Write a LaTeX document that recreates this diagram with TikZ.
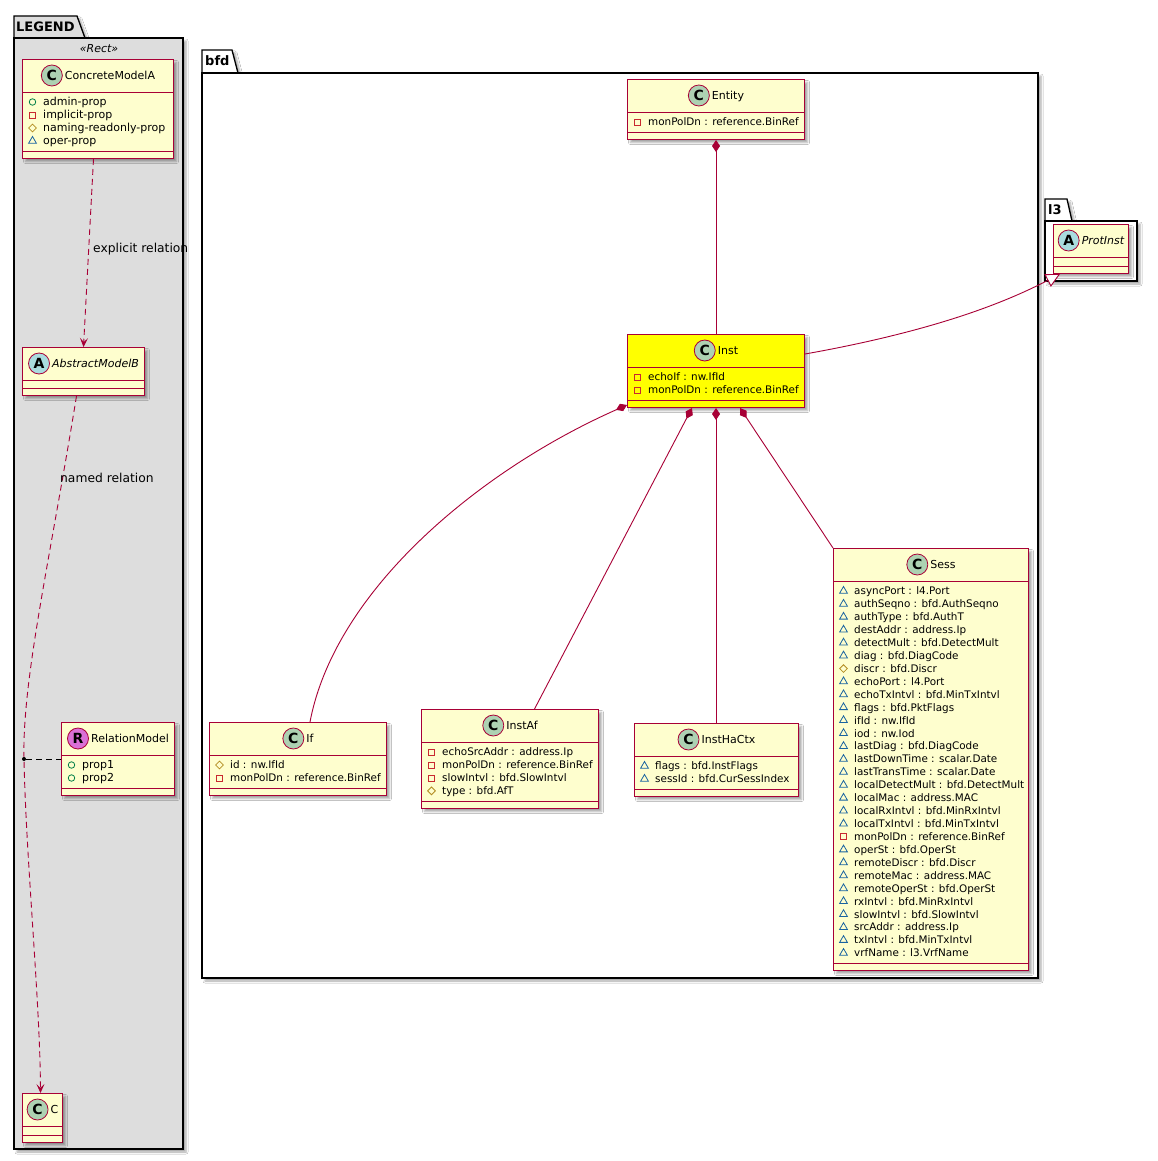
\documentclass[tikz,border=0pt]{standalone}
\usepackage{fontspec}
\setmainfont{DejaVu Sans}
\usetikzlibrary{positioning,arrows.meta,shadows.blur,shapes.geometric}

\definecolor{umlred}{HTML}{A80036}
\definecolor{classfill}{HTML}{FEFECE}
\definecolor{instfill}{HTML}{FFFF00}
\definecolor{ciconfill}{HTML}{ADD1B2}
\definecolor{aiconfill}{HTML}{A9DCDF}
\definecolor{riconfill}{HTML}{DA70D6}
\definecolor{legendfill}{HTML}{DDDDDD}
\definecolor{pubcol}{HTML}{038048}
\definecolor{privcol}{HTML}{C82930}
\definecolor{protcol}{HTML}{B38D22}
\definecolor{packcol}{HTML}{1963A0}

\newcommand\attrfont{\fontsize{10.4}{12}\selectfont}
\newcommand\legfont{\fontsize{11}{13}\selectfont}
\newcommand\namefont{\fontsize{11}{13}\selectfont}

\tikzset{
  umlshadow/.style={blur shadow={shadow xshift=3pt, shadow yshift=-3pt, shadow blur radius=2pt, shadow opacity=35}},
  classbox/.style={draw=umlred, line width=1pt, fill=classfill, umlshadow, anchor=north west, inner sep=0pt},
  classline/.style={draw=umlred, line width=0.9pt},
  cname/.style={inner sep=0pt, text height=8pt, text depth=0pt, font=\namefont},
  icon/.style={circle, draw=umlred, line width=0.8pt, fill=#1, minimum size=21pt, inner sep=0pt, font=\fontsize{14}{14}\selectfont\bfseries},
  attr/.style={anchor=base west, inner sep=0pt, font=\attrfont},
  priv/.style={rectangle, draw=privcol, line width=0.8pt, minimum size=6pt, inner sep=0pt},
  prot/.style={diamond, draw=protcol, line width=0.8pt, minimum size=8pt, inner sep=0pt},
  pack/.style={regular polygon, regular polygon sides=3, draw=packcol, line width=0.8pt, minimum size=9pt, inner sep=0pt},
  pub/.style={circle, draw=pubcol, line width=0.8pt, minimum size=6.5pt, inner sep=0pt},
  pkg/.style={draw=black, line width=1.3pt, umlshadow},
  pkgname/.style={font=\fontsize{13}{15}\selectfont\bfseries, inner sep=0pt, anchor=base west},
  comp/.style={draw=umlred, line width=0.9pt, {Diamond[length=12pt,width=8pt]}-},
  dep/.style={draw=umlred, line width=0.9pt, dash pattern=on 6pt off 4pt, -{Stealth[length=9pt,width=8pt,inset=4pt]}},
  ext/.style={draw=umlred, line width=0.9pt, -{Triangle[length=14pt,width=14pt,fill=white]}},
  rellabel/.style={font=\fontsize{12.3}{14}\selectfont, anchor=west, inner sep=0pt},
}

% class box with header and methods dividers
\newcommand\umlclass[6][]{%
  \node[classbox, minimum width=#5pt, minimum height=#6pt, #1] (#2) at (#3,#4) {};
  \draw[classline] ([yshift=-33pt]#2.north west) -- ([yshift=-33pt]#2.north east);
  \draw[classline] ([yshift=8pt]#2.south west) -- ([yshift=8pt]#2.south east);
}
\newcommand\umlhead[5][]{%
  \node[cname, #1] (#2-name) at ([xshift=12pt, yshift=-16.5pt]#2.north) {#5};
  \node[icon=#3, left=2pt of #2-name] (#2-icon) {#4};
}
\newcommand\umlattrs[4][\attrfont]{%
  \foreach \vis/\txt [count=\k from 0] in {#4} {
    \node[\vis] (#2-v\k) at ([xshift=10.5pt, yshift={-(43+\k*#3)*1pt}]#2.north west) {};
    \node[attr, font=#1] (#2-t\k) at ([xshift=21pt, yshift={-(43+\k*#3)*1pt-3.8pt}]#2.north west) {\txt};
  }
}

\begin{document}
\begin{tikzpicture}[x=1pt, y=-1pt]
  \fill[white] (0,0) rectangle (1158,1161);
  \useasboundingbox (0,0) rectangle (1158,1161);

  % packages
  \draw[pkg, fill=legendfill] (14,38) -- (14,16) -- (77,16) -- (85,38) -- cycle;
  \draw[pkg, fill=legendfill] (14,38) rectangle (183,1149);
  \node[pkgname] (legend-name) at (16,32) {LEGEND};
  \node[font=\legfont\itshape, inner sep=0pt] (legend-stereo) at (99,49) {«Rect»};

  \draw[pkg, fill=white] (202,73) -- (202,50) -- (232,50) -- (238,73) -- cycle;
  \draw[pkg, fill=white] (202,73) rectangle (1038,978);
  \node[pkgname] (bfd-name) at (205,66) {bfd};

  \draw[pkg, fill=white] (1045,221) -- (1045,199) -- (1067,199) -- (1072,221) -- cycle;
  \draw[pkg, fill=white] (1045,221) rectangle (1137,281);
  \node[pkgname] (l3-name) at (1048,214.5) {l3};

  % legend classes
  \umlclass{concretemodela}{22}{59}{151}{99}
  \umlhead{concretemodela}{ciconfill}{C}{ConcreteModelA}
  \umlattrs[\legfont]{concretemodela}{13}{pub/admin-prop, priv/implicit-prop, prot/naming-readonly-prop, pack/oper-prop}

  \umlclass{abstractmodelb}{22}{347}{122}{48}
  \umlhead[font=\namefont\itshape]{abstractmodelb}{aiconfill}{A}{AbstractModelB}

  \umlclass{relationmodel}{61}{722}{113}{73}
  \umlhead{relationmodel}{riconfill}{R}{RelationModel}
  \umlattrs[\legfont]{relationmodel}{13}{pub/prop1, pub/prop2}

  \umlclass{c}{22}{1093}{40}{49}
  \umlhead{c}{ciconfill}{C}{C}

  % bfd classes
  \umlclass{entity}{627}{79}{177}{60}
  \umlhead{entity}{ciconfill}{C}{Entity}
  \umlattrs{entity}{12.95}{priv/monPolDn : reference.BinRef}

  \umlclass[fill=instfill]{inst}{627}{334}{177}{73}
  \umlhead{inst}{ciconfill}{C}{Inst}
  \umlattrs{inst}{12.95}{priv/echoIf : nw.IfId, priv/monPolDn : reference.BinRef}

  \umlclass{if}{209}{722}{177}{73}
  \umlhead{if}{ciconfill}{C}{If}
  \umlattrs{if}{12.95}{prot/id : nw.IfId, priv/monPolDn : reference.BinRef}

  \umlclass{instaf}{421}{709}{177}{99}
  \umlhead{instaf}{ciconfill}{C}{InstAf}
  \umlattrs{instaf}{12.95}{priv/echoSrcAddr : address.Ip, priv/monPolDn : reference.BinRef,
    priv/slowIntvl : bfd.SlowIntvl, prot/type : bfd.AfT}

  \umlclass{insthactx}{634}{723}{164}{73}
  \umlhead{insthactx}{ciconfill}{C}{InstHaCtx}
  \umlattrs{insthactx}{12.95}{pack/flags : bfd.InstFlags, pack/sessId : bfd.CurSessIndex}

  \umlclass{sess}{833}{548}{195}{422}
  \umlhead{sess}{ciconfill}{C}{Sess}
  \umlattrs{sess}{12.93}{pack/asyncPort : l4.Port, pack/authSeqno : bfd.AuthSeqno,
    pack/authType : bfd.AuthT, pack/destAddr : address.Ip, pack/detectMult : bfd.DetectMult,
    pack/diag : bfd.DiagCode, prot/discr : bfd.Discr, pack/echoPort : l4.Port,
    pack/echoTxIntvl : bfd.MinTxIntvl, pack/flags : bfd.PktFlags, pack/ifId : nw.IfId,
    pack/iod : nw.Iod, pack/lastDiag : bfd.DiagCode, pack/lastDownTime : scalar.Date,
    pack/lastTransTime : scalar.Date, pack/localDetectMult : bfd.DetectMult,
    pack/localMac : address.MAC, pack/localRxIntvl : bfd.MinRxIntvl,
    pack/localTxIntvl : bfd.MinTxIntvl, priv/monPolDn : reference.BinRef,
    pack/operSt : bfd.OperSt, pack/remoteDiscr : bfd.Discr, pack/remoteMac : address.MAC,
    pack/remoteOperSt : bfd.OperSt, pack/rxIntvl : bfd.MinRxIntvl,
    pack/slowIntvl : bfd.SlowIntvl, pack/srcAddr : address.Ip,
    pack/txIntvl : bfd.MinTxIntvl, pack/vrfName : l3.VrfName}

  % l3 class
  \umlclass{protinst}{1053}{224}{75}{49}
  \umlhead[font=\namefont\itshape]{protinst}{aiconfill}{A}{ProtInst}

  % legend relations
  \draw[dep] ([xshift=-4.5pt]concretemodela.south) -- (abstractmodelb.north);
  \node[rellabel] (explicit-label) at (93,249) {explicit relation};
  \coordinate (relpt) at (24,759);
  \draw[dep] ([xshift=-7pt]abstractmodelb.south) .. controls (50,560) and (22,680) .. (relpt)
    .. controls (26,860) and (40,1000) .. ([xshift=-2pt]c.north);
  \node[rellabel] (named-label) at (60,478) {named relation};
  \node[circle, fill=black, inner sep=0pt, minimum size=4pt] (reldot) at (relpt) {};
  \draw[black, line width=0.8pt, dash pattern=on 6pt off 4pt] (reldot) -- (relationmodel);

  % bfd relations
  \draw[comp] (entity) -- (inst);
  \draw[comp] ([yshift=3pt]inst.south west) .. controls (480,470) and (335,590) .. ([xshift=12pt]if.north);
  \draw[comp] ([xshift=-24pt]inst.south) -- ([xshift=24.5pt]instaf.north);
  \draw[comp] (inst.south) -- (inst.south |- insthactx.north);
  \draw[comp] ([xshift=24pt]inst.south) -- (sess.north west);
  \draw[ext] ([yshift=17pt]inst.east) .. controls (940,330) and (1010,300) .. ([xshift=7pt]protinst.south west);
\end{tikzpicture}
\end{document}
